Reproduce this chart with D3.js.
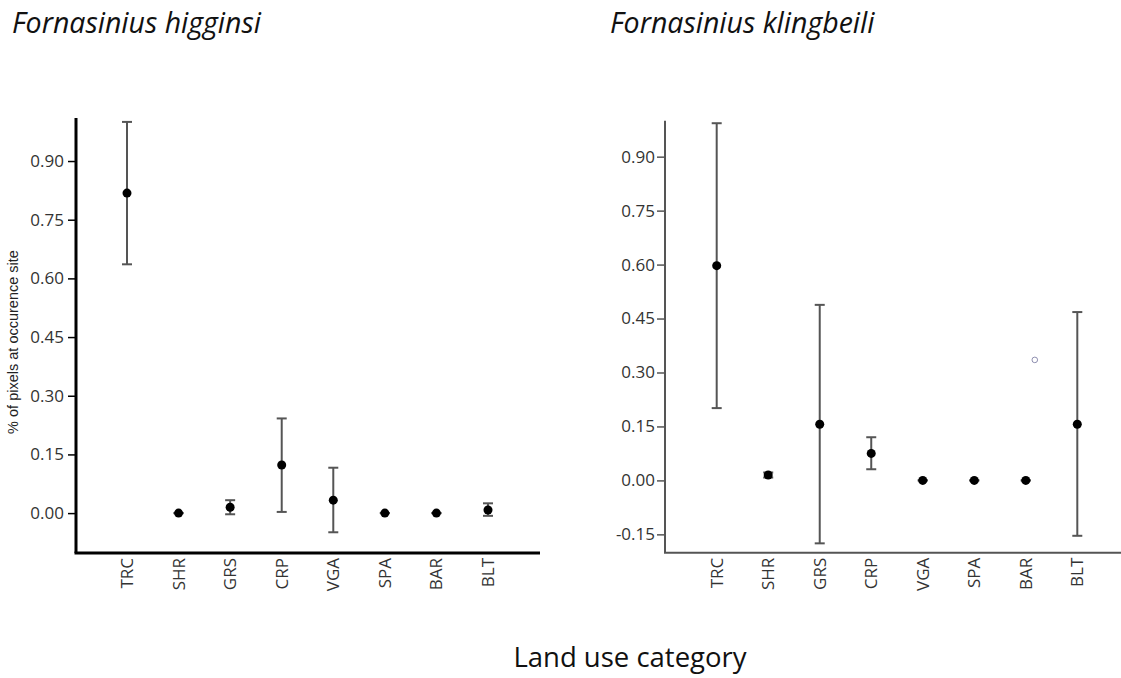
<!DOCTYPE html>
<html>
<head>
<meta charset="utf-8">
<script src="https://cdn.jsdelivr.net/npm/d3@7"></script>
<style>
  html, body { margin: 0; padding: 0; background: #fff; }
</style>
</head>
<body>
<div id="chart"></div>
<script>
// Kategorien (Landnutzung)
const categories = ["TRC", "SHR", "GRS", "CRP", "VGA", "SPA", "BAR", "BLT"];

// Fornasinius higginsi: Mittelwert und Fehlerbalken
const higginsiMean = [0.818, 0, 0.015, 0.123, 0.033, 0, 0, 0.008];
const higginsiLow  = [0.636, 0, -0.003, 0.003, -0.049, 0, 0, -0.007];
const higginsiHigh = [1.0, 0, 0.033, 0.242, 0.116, 0, 0, 0.025];

// Fornasinius klingbeili
const klingbeiliMean = [0.597, 0.015, 0.156, 0.075, 0, 0, 0, 0.156];
const klingbeiliLow  = [0.201, 0.008, -0.175, 0.031, 0, 0, 0, -0.154];
const klingbeiliHigh = [0.993, 0.022, 0.488, 0.12, 0, 0, 0, 0.468];

// einzelner Ausreißer (offener Kreis)
const klingbeiliOutlierCat = ["BAR"];
const klingbeiliOutlierVal = [0.335];

// Tick-Beschriftungen
const higginsiTicks = [0, 0.15, 0.30, 0.45, 0.60, 0.75, 0.90];
const klingbeiliTicks = [-0.15, 0, 0.15, 0.30, 0.45, 0.60, 0.75, 0.90];

const width = 1121;
const height = 678;

const svg = d3.select("#chart")
  .append("svg")
  .attr("width", width)
  .attr("height", height);

// Zahlformat mit normalem Bindestrich als Minus
const fmt = d => d3.format(".2f")(d).replace("\u2212", "-");

function panel(opts) {
  const g = svg.append("g");

  const x = d3.scalePoint()
    .domain(categories)
    .range(opts.xRange);

  const y = d3.scaleLinear()
    .domain(opts.yDomain)
    .range([opts.bottom, opts.top]);

  // y-Achse
  const yAxis = d3.axisLeft(y)
    .tickValues(opts.ticks)
    .tickFormat(fmt)
    .tickSize(8)
    .tickSizeOuter(0);

  const ya = g.append("g")
    .attr("transform", `translate(${opts.left},0)`)
    .call(yAxis);
  ya.select(".domain").remove();
  ya.selectAll(".tick line").attr("stroke", opts.axisColor).attr("stroke-width", 1.5);
  ya.selectAll(".tick text")
    .attr("x", opts.labelGap)
    .attr("fill", "#333")
    .style("font-family", "'Open Sans', sans-serif")
    .style("font-size", "17px");

  // Achsenlinien
  g.append("line")
    .attr("x1", opts.left).attr("x2", opts.left)
    .attr("y1", opts.top).attr("y2", opts.bottom)
    .attr("stroke", opts.axisColor)
    .attr("stroke-width", opts.axisWidth);
  g.append("line")
    .attr("x1", opts.left - opts.axisWidth / 2).attr("x2", opts.right)
    .attr("y1", opts.bottom).attr("y2", opts.bottom)
    .attr("stroke", opts.axisColor)
    .attr("stroke-width", opts.axisWidth);

  // x-Beschriftungen (gedreht)
  g.selectAll(".cat")
    .data(categories)
    .join("text")
    .attr("class", "cat")
    .attr("transform", d => `translate(${x(d) + 6},${opts.bottom + 5}) rotate(-90)`)
    .attr("text-anchor", "end")
    .attr("fill", "#333")
    .style("font-family", "'Open Sans', sans-serif")
    .style("font-size", "17px")
    .text(d => d);

  const rows = categories.map((c, i) => ({
    cat: c, mean: opts.mean[i], low: opts.low[i], high: opts.high[i]
  }));

  // Fehlerbalken
  const bars = g.append("g")
    .attr("stroke", "#555")
    .attr("stroke-width", 2);
  bars.selectAll(".stem")
    .data(rows.filter(d => d.high - d.low > 0))
    .join("line")
    .attr("x1", d => x(d.cat)).attr("x2", d => x(d.cat))
    .attr("y1", d => y(d.low)).attr("y2", d => y(d.high));
  ["low", "high"].forEach(k => {
    bars.selectAll(".cap-" + k)
      .data(rows)
      .join("line")
      .attr("x1", d => x(d.cat) - 5).attr("x2", d => x(d.cat) + 5)
      .attr("y1", d => y(d[k])).attr("y2", d => y(d[k]));
  });

  // Mittelwerte
  g.selectAll(".dot")
    .data(rows)
    .join("circle")
    .attr("cx", d => x(d.cat))
    .attr("cy", d => y(d.mean))
    .attr("r", 4.5)
    .attr("fill", "#000");

  // Ausreißer
  if (opts.outCat) {
    g.selectAll(".out")
      .data(opts.outCat.map((c, i) => ({ cat: c, v: opts.outVal[i] })))
      .join("circle")
      .attr("cx", d => x(d.cat) + 9)
      .attr("cy", d => y(d.v))
      .attr("r", 2.8)
      .attr("fill", "none")
      .attr("stroke", "#8f8fb0")
      .attr("stroke-width", 1);
  }

  // Titel
  svg.append("text")
    .attr("x", opts.titleX)
    .attr("y", 33)
    .style("font-family", "'Open Sans', sans-serif")
    .style("font-style", "italic")
    .style("font-size", "28.5px")
    .attr("fill", "#111")
    .text(opts.title);
}

panel({
  title: "Fornasinius higginsi",
  titleX: 12,
  xRange: [127, 488],
  yDomain: [-0.102, 1.01],
  top: 118, bottom: 553,
  left: 76, right: 540,
  labelGap: -12,
  ticks: higginsiTicks,
  mean: higginsiMean, low: higginsiLow, high: higginsiHigh,
  axisColor: "#000", axisWidth: 3
});

panel({
  title: "Fornasinius klingbeili",
  titleX: 610,
  xRange: [716.7, 1077.3],
  yDomain: [-0.201, 1.0],
  top: 120.7, bottom: 552.7,
  left: 665, right: 1121,
  labelGap: -10,
  ticks: klingbeiliTicks,
  mean: klingbeiliMean, low: klingbeiliLow, high: klingbeiliHigh,
  outCat: klingbeiliOutlierCat, outVal: klingbeiliOutlierVal,
  axisColor: "#555", axisWidth: 2
});

// y-Achsentitel links
svg.append("text")
  .attr("transform", "translate(18,342) rotate(-90)")
  .attr("text-anchor", "middle")
  .style("font-family", "'Liberation Sans', Arial, sans-serif")
  .style("font-size", "14.5px")
  .attr("fill", "#222")
  .text("% of pixels at occurence site");

// gemeinsamer x-Achsentitel
svg.append("text")
  .attr("x", 630)
  .attr("y", 667)
  .attr("text-anchor", "middle")
  .style("font-family", "'Open Sans', sans-serif")
  .style("font-size", "27.5px")
  .attr("fill", "#111")
  .text("Land use category");
</script>
</body>
</html>
